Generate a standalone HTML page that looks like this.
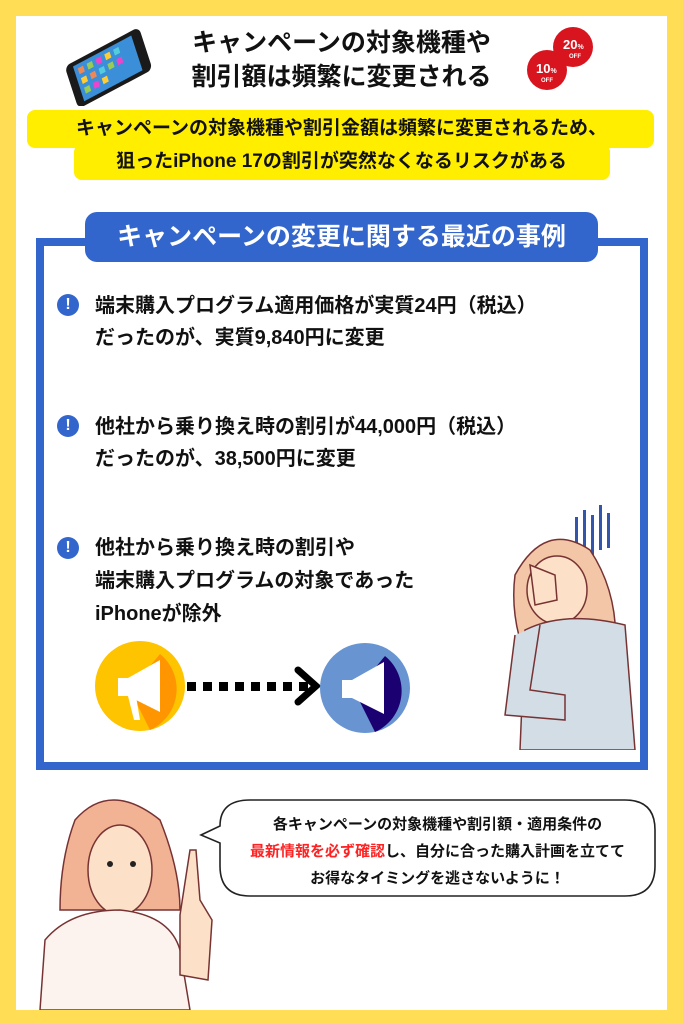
<!DOCTYPE html>
<html><head><meta charset="utf-8"><style>
*{margin:0;padding:0;box-sizing:border-box}
body{width:683px;height:1024px;background:#FFDD55;position:relative;overflow:hidden;font-family:"Liberation Sans","Noto Sans CJK JP",sans-serif;font-weight:bold}
.a{position:absolute}
.t{white-space:nowrap}
.ex{position:absolute;width:22px;height:22px;border-radius:50%;background:#3366CC;color:#fff;font-size:16px;text-align:center;line-height:22px}
.it{position:absolute;left:95px;font-size:20px;line-height:32px;color:#111}
</style></head><body>
<div class="a" style="left:16px;top:16px;width:651px;height:994px;background:#fff"></div>
<!-- phone -->
<svg class="a" style="left:58px;top:26px" width="100" height="80"><g transform="rotate(-28 50 40) translate(50 40) skewX(-10) translate(-50 -40)"><rect x="8" y="20" width="84" height="44" rx="6" fill="#1a1a1a"/><rect x="16" y="24" width="66" height="36" fill="#3a8fd8"/><g><rect x="20" y="28" width="6" height="6" fill="#e85"/><rect x="30" y="28" width="6" height="6" fill="#9c5"/><rect x="40" y="28" width="6" height="6" fill="#e4c"/><rect x="50" y="28" width="6" height="6" fill="#fc3"/><rect x="60" y="28" width="6" height="6" fill="#5cd"/><rect x="20" y="38" width="6" height="6" fill="#fc3"/><rect x="30" y="38" width="6" height="6" fill="#e85"/><rect x="40" y="38" width="6" height="6" fill="#5cd"/><rect x="50" y="38" width="6" height="6" fill="#9c5"/><rect x="60" y="38" width="6" height="6" fill="#e4c"/><rect x="20" y="48" width="6" height="6" fill="#9c5"/><rect x="30" y="48" width="6" height="6" fill="#e4c"/><rect x="40" y="48" width="6" height="6" fill="#fc3"/></g></g></svg>
<div class="a t" style="left:0;width:683px;top:26px;text-align:center;font-size:25px;line-height:34px;color:#111">キャンペーンの対象機種や<br>割引額は頻繁に変更される</div>
<svg class="a" style="left:525px;top:25px" width="70" height="70"><circle cx="48" cy="22" r="20" fill="#d8141e"/><circle cx="22" cy="45" r="20" fill="#d8141e"/><text x="38" y="24" font-size="13" fill="#fff" font-weight="bold">20<tspan font-size="7">%</tspan></text><text x="44" y="33" font-size="6" fill="#fff">OFF</text><text x="11" y="48" font-size="13" fill="#fff" font-weight="bold">10<tspan font-size="7">%</tspan></text><text x="16" y="57" font-size="6" fill="#fff">OFF</text></svg>
<div class="a" style="left:27px;top:110px;width:627px;height:38px;background:#FFEE00;border-radius:8px"></div>
<div class="a" style="left:74px;top:144px;width:536px;height:36px;background:#FFEE00;border-radius:8px"></div>
<div class="a t" style="left:0;width:683px;top:112px;text-align:center;font-size:19px;line-height:33px;color:#111">キャンペーンの対象機種や割引金額は頻繁に変更されるため、<br>狙ったiPhone 17の割引が突然なくなるリスクがある</div>
<div class="a" style="left:36px;top:238px;width:612px;height:532px;border:8px solid #3366CC"></div>
<div class="a t" style="left:85px;top:212px;width:513px;height:50px;background:#3366CC;border-radius:12px;color:#fff;font-size:25px;text-align:center;line-height:50px">キャンペーンの変更に関する最近の事例</div>
<div class="ex" style="left:57px;top:294px">!</div>
<div class="it t" style="top:290px">端末購入プログラム適用価格が実質24円（税込）<br>だったのが、実質9,840円に変更</div>
<div class="ex" style="left:57px;top:415px">!</div>
<div class="it t" style="top:411px">他社から乗り換え時の割引が44,000円（税込）<br>だったのが、38,500円に変更</div>
<div class="ex" style="left:57px;top:537px">!</div>
<div class="it t" style="top:532px;line-height:33px">他社から乗り換え時の割引や<br>端末購入プログラムの対象であった<br>iPhoneが除外</div>
<svg class="a" style="left:90px;top:640px" width="330" height="100">
<circle cx="50" cy="46" r="45" fill="#FFC400"/><path d="M70 14 A45 45 0 0 1 60 90 L40 50Z" fill="#FF9500"/>
<path d="M28 38 L38 38 L70 20 L70 72 L38 56 L28 56Z" fill="#fff"/><path d="M38 56 L44 80 L50 80 L46 56Z" fill="#fff"/>
<g fill="#000"><rect x="97" y="42" width="9" height="9"/><rect x="113" y="42" width="9" height="9"/><rect x="129" y="42" width="9" height="9"/><rect x="145" y="42" width="9" height="9"/><rect x="161" y="42" width="9" height="9"/><rect x="177" y="42" width="9" height="9"/><rect x="193" y="42" width="9" height="9"/><rect x="209" y="42" width="9" height="9"/></g>
<path d="M208 30 L226 46 L208 62" fill="none" stroke="#000" stroke-width="7" stroke-linecap="round"/>
<circle cx="275" cy="48" r="45" fill="#6895D2"/><path d="M295 16 A45 45 0 0 1 285 92 L265 52Z" fill="#1a0070"/>
<path d="M252 40 L262 40 L294 22 L294 74 L262 58 L252 58Z" fill="#fff"/>
</svg>
<!-- woman right -->
<svg class="a" style="left:495px;top:505px" width="150" height="245">
<g fill="#3355aa"><rect x="80" y="12" width="3" height="35"/><rect x="88" y="5" width="3" height="45"/><rect x="96" y="10" width="3" height="40"/><rect x="104" y="0" width="3" height="45"/><rect x="112" y="8" width="3" height="35"/></g>
<path d="M20 70 Q50 15 95 45 Q125 90 120 150 L30 150 Q15 110 20 70Z" fill="#f2c6a6" stroke="#733" stroke-width="1.5"/>
<ellipse cx="62" cy="85" rx="30" ry="34" fill="#fde0c8" stroke="#733" stroke-width="1.5"/>
<path d="M35 60 L60 70 L62 95 L40 100 Z" fill="#fde0c8" stroke="#733" stroke-width="1.5"/>
<path d="M30 125 Q70 105 130 120 L140 245 L25 245 Z" fill="#d2dde6" stroke="#733" stroke-width="1.5"/>
<path d="M20 130 L10 210 L70 215 L70 190 L35 185 L45 120" fill="#d2dde6" stroke="#733" stroke-width="1.5"/>
</svg>
<!-- woman left -->
<svg class="a" style="left:30px;top:780px" width="190" height="230">
<path d="M45 40 Q80 0 130 40 Q150 90 150 130 L30 130 Q30 80 45 40Z" fill="#f2b294" stroke="#733" stroke-width="1.5"/>
<ellipse cx="90" cy="90" rx="32" ry="45" fill="#fde0c8" stroke="#733" stroke-width="1.5"/>
<path d="M10 230 L15 160 Q40 130 90 130 Q140 135 150 170 L160 230Z" fill="#fdf3ee" stroke="#733" stroke-width="1.5"/>
<path d="M160 70 L166 70 L170 120 L182 140 L178 200 L150 195 L150 135 Z" fill="#fde0c8" stroke="#733" stroke-width="1.5"/>
<circle cx="80" cy="84" r="3" fill="#222"/><circle cx="103" cy="84" r="3" fill="#222"/>
</svg>
<svg class="a" style="left:195px;top:798px" width="465" height="102"><path d="M55 2 H430 Q460 2 460 32 V68 Q460 98 430 98 H55 Q25 98 25 68 V45 L6 37 L25 28 Q25 2 55 2Z" fill="#fff" stroke="#222" stroke-width="1.6"/></svg>
<div class="a t" style="left:220px;width:435px;top:811px;text-align:center;font-size:15px;line-height:27px;color:#111">各キャンペーンの対象機種や割引額・適用条件の<br><span style="color:#f22">最新情報を必ず確認</span>し、自分に合った購入計画を立てて<br>お得なタイミングを逃さないように！</div>
</body></html>
